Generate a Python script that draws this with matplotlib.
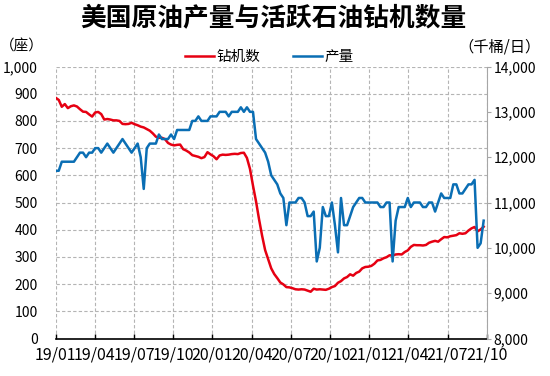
import matplotlib
matplotlib.use('Agg')
import matplotlib.pyplot as plt
import numpy as np

plt.rcParams['font.family'] = ['Noto Sans CJK SC', 'DejaVu Sans']

# weekly data, 2019/01 - 2021/09
rigs = [
    885, 877, 852, 862, 847, 854, 857, 853, 843, 834,
    833, 824, 816, 831, 833, 825, 805, 807, 805, 802,
    802, 800, 789, 788, 789, 793, 788, 784, 779, 776,
    770, 764, 754, 742, 738, 738, 733, 719, 713, 710,
    712, 713, 696, 691, 684, 674, 671, 668, 663, 667,
    685, 677, 670, 659, 673, 676, 675, 676, 678, 679,
    678, 682, 683, 664, 624, 562, 504, 438, 378, 325,
    292, 258, 237, 222, 206, 199, 189, 188, 185, 181,
    180, 181, 180, 176, 172, 183, 180, 181, 180, 179,
    183, 189, 193, 205, 211, 221, 226, 236, 231, 241,
    246, 258, 263, 264, 267, 275, 287, 289, 295, 299,
    306, 305, 309, 310, 309, 318, 324, 337, 344, 343,
    343, 342, 344, 352, 356, 359, 356, 365, 373, 372,
    376, 378, 380, 387, 385, 387, 397, 405, 410, 394,
    401, 411,
]

production = [
    11700, 11700, 11900, 11900, 11900, 11900, 11900, 12000, 12100, 12100,
    12000, 12100, 12100, 12200, 12200, 12100, 12200, 12300, 12200, 12100,
    12200, 12300, 12400, 12300, 12200, 12100, 12200, 12300, 12000, 11300,
    12200, 12300, 12300, 12300, 12500, 12400, 12400, 12400, 12500, 12400,
    12600, 12600, 12600, 12600, 12600, 12800, 12800, 12900, 12800, 12800,
    12800, 12900, 12900, 12900, 13000, 13000, 13000, 12900, 13000, 13000,
    13000, 13100, 13000, 13100, 13000, 13000, 12400, 12300, 12200, 12100,
    11900, 11600, 11500, 11400, 11200, 11100, 10500, 11000, 11000, 11000,
    11100, 11100, 11000, 10700, 10700, 10800, 9700, 10000, 10900, 10700,
    10700, 11000, 10500, 9900, 11100, 10500, 10500, 10700, 10900, 11000,
    11100, 11100, 11000, 11000, 11000, 11000, 11000, 10900, 10900, 11000,
    11000, 9700, 10600, 10900, 10900, 10900, 11100, 10900, 11000, 11000,
    11000, 10900, 10900, 11000, 11000, 10800, 11000, 11200, 11100, 11100,
    11100, 11400, 11400, 11200, 11200, 11300, 11400, 11400, 11500, 10000,
    10100, 10600,
]

x_labels = ['19/01', '19/04', '19/07', '19/10', '20/01', '20/04',
            '20/07', '20/10', '21/01', '21/04', '21/07', '21/10']

red = '#e60012'
blue = '#0a6eb4'
grid_color = '#b4b4b4'

x = np.arange(len(rigs))
x_max = len(rigs)

fig = plt.figure(figsize=(5.5, 3.76), dpi=100)
ax = fig.add_axes([0.1013, 0.0997, 0.7836, 0.7234])

line_r, = ax.plot(x, rigs, color=red, linewidth=1.8, label='钻机数')
ax.set_xlim(0, x_max)
ax.set_ylim(0, 1000)
ax.set_yticks(np.arange(0, 1001, 100))
ax.set_yticklabels(['{:,}'.format(v) for v in range(0, 1001, 100)])
ax.set_xticks(np.linspace(0, x_max, len(x_labels)))
ax.set_xticklabels(x_labels)
ax.grid(True, color=grid_color, linestyle=(0, (3, 2)), linewidth=0.8)
ax.set_axisbelow(True)
for side in ('left', 'top', 'right'):
    ax.spines[side].set_visible(False)
ax.spines['bottom'].set_linewidth(1.2)
ax.tick_params(axis='y', length=0, pad=13, labelsize=10)
ax.tick_params(axis='x', direction='in', length=3.5, width=1, pad=6, labelsize=11.5)

ax2 = ax.twinx()
line_b, = ax2.plot(x, production, color=blue, linewidth=1.8, label='产量')
ax2.set_ylim(8000, 14000)
ax2.set_yticks(np.arange(8000, 14001, 1000))
ax2.set_yticklabels(['{:,}'.format(v) for v in range(8000, 14001, 1000)])
for side in ('left', 'top', 'bottom'):
    ax2.spines[side].set_visible(False)
ax2.spines['right'].set_color('#a6a6a6')
ax2.tick_params(axis='y', direction='out', length=3, color='#a6a6a6', pad=2, labelsize=10)

fig.text(0.497, 0.952, '美国原油产量与活跃石油钻机数量', ha='center', va='center',
         fontsize=18.5, fontweight='bold')
fig.text(0.04, 0.875, '（座）', ha='center', va='center', fontsize=10.5)
fig.text(0.908, 0.875, '（千桶/日）', ha='center', va='center', fontsize=11)
fig.legend(handles=[line_r, line_b], loc='center', bbox_to_anchor=(0.49, 0.848), ncol=2,
           frameon=False, fontsize=10.5, handlelength=2, columnspacing=2.2, handletextpad=0.2)

fig.savefig('out.png', dpi=100)
